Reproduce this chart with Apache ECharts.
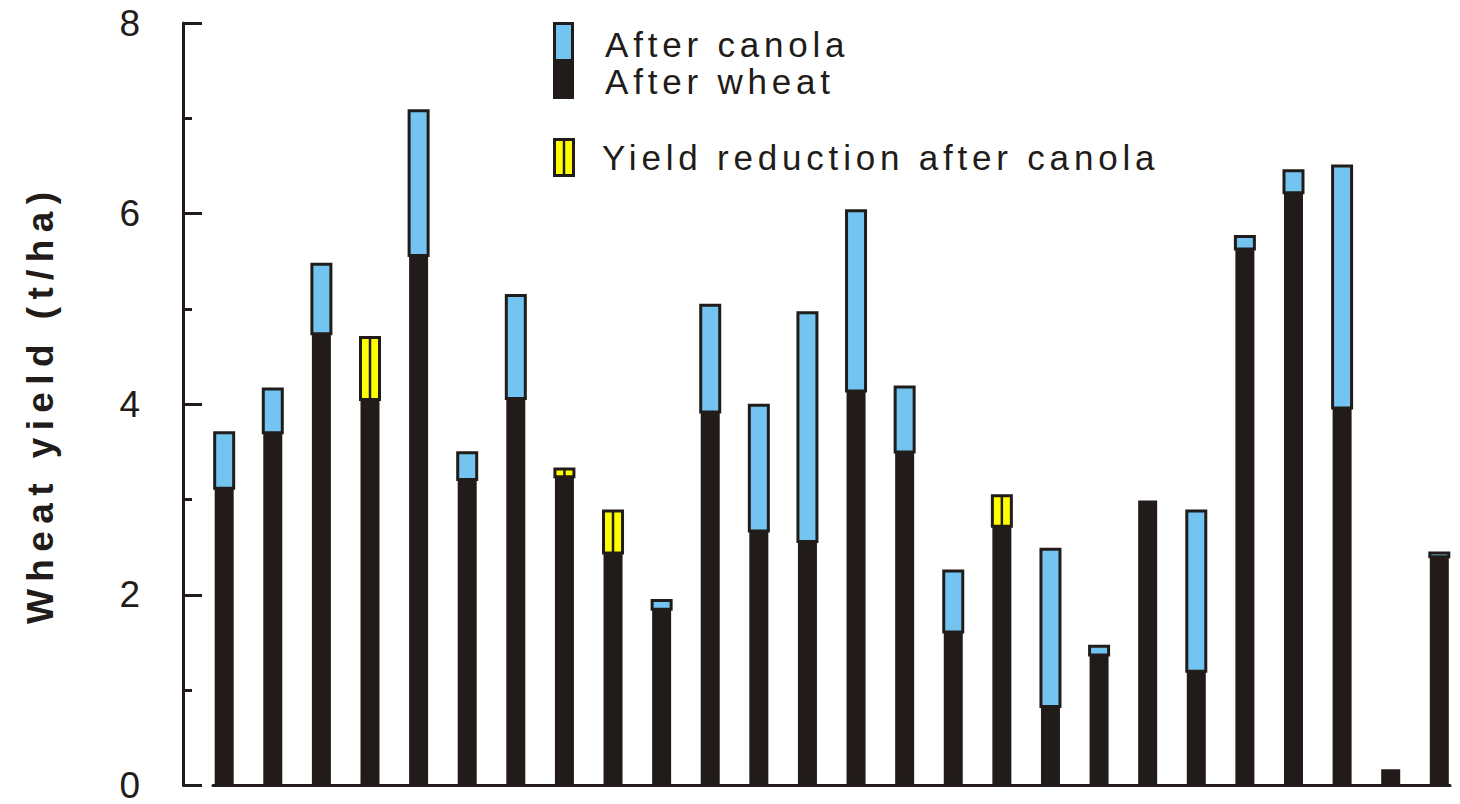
<!DOCTYPE html>
<html>
<head>
<meta charset="utf-8">
<script src="https://cdn.jsdelivr.net/npm/echarts@6/dist/echarts.min.js"></script>
<style>
  html, body { margin: 0; padding: 0; background: #ffffff; }
  #chart { width: 1460px; height: 804px; }
  /* wide tracking for the legend and axis title */
  #chart text[style*="35px"] { letter-spacing: 4.8px; }
  #chart text[style*="bold"] { letter-spacing: 7.4px; }
</style>
</head>
<body>
<div id="chart"></div>
<script>
// Site order along the x axis
const sites = [1, 2, 3, 4, 5, 6, 7, 8, 9, 10, 11, 12, 13, 14, 15, 16, 17, 18, 19, 20, 21, 22, 23, 24, 25, 26];

// Wheat yield (t/ha) following a wheat crop
const afterWheat = [3.12, 3.70, 4.74, 4.70, 5.56, 3.21, 4.06, 3.32, 2.88, 1.85, 3.92, 2.67, 2.56, 4.14, 3.50, 1.61, 3.04, 0.83, 1.37, 2.99, 1.20, 5.63, 6.22, 3.96, 0.17, 2.40];

// Wheat yield (t/ha) following a canola crop
const afterCanola = [3.70, 4.16, 5.47, 4.05, 7.08, 3.49, 5.14, 3.24, 2.44, 1.94, 5.04, 3.99, 4.96, 6.03, 4.18, 2.25, 2.72, 2.48, 1.46, 2.99, 2.88, 5.76, 6.45, 6.50, 0.17, 2.44];

// Y axis tick values
const yTicks = [0, 2, 4, 6, 8];

const INK = '#211c19';
const SKY = '#74c4f2';
const GOLD = '#ffff00';
const FONT = '"Liberation Sans", Arial, Helvetica, sans-serif';

// lower of the two yields: the solid dark part of every column
const baseData = sites.map((s, i) => [s, Math.min(afterWheat[i], afterCanola[i])]);
// gain after canola: from the wheat-after-wheat yield up to the canola yield
const gainData = [];
// loss after canola: from the canola yield up to the wheat-after-wheat yield
const lossData = [];
sites.forEach((s, i) => {
  if (afterCanola[i] > afterWheat[i]) gainData.push([s, afterWheat[i], afterCanola[i]]);
  if (afterWheat[i] > afterCanola[i]) lossData.push([s, afterCanola[i], afterWheat[i]]);
});

const BAR_W = 19;

// segment drawn between two yields, outlined in black
function segment(fill, divided) {
  return function (params, api) {
    const x = api.value(0);
    const top = api.coord([x, api.value(2)]);
    const bot = api.coord([x, api.value(1)]);
    const children = [{
      type: 'rect',
      shape: { x: top[0] - BAR_W / 2, y: top[1], width: BAR_W, height: bot[1] - top[1] },
      style: { fill: fill, stroke: INK, lineWidth: 3 }
    }];
    if (divided) {
      children.push({
        type: 'line',
        shape: { x1: top[0], y1: top[1], x2: top[0], y2: bot[1] },
        style: { stroke: INK, lineWidth: 2.5 }
      });
    }
    return { type: 'group', children: children };
  };
}

const chart = echarts.init(document.getElementById('chart'), null, { renderer: 'svg' });

chart.setOption({
  animation: false,
  backgroundColor: '#ffffff',
  grid: { left: 213, right: 10, top: 23, bottom: 16, containLabel: false },
  xAxis: {
    type: 'value',
    min: 0.77,
    max: 26.22,
    axisLine: { show: true, onZero: false, lineStyle: { color: INK, width: 3 } },
    axisTick: { show: false },
    axisLabel: { show: false },
    splitLine: { show: false }
  },
  yAxis: {
    type: 'value',
    min: yTicks[0],
    max: yTicks[yTicks.length - 1],
    interval: yTicks[1] - yTicks[0],
    offset: 30,
    axisLine: { show: true, onZero: false, lineStyle: { color: INK, width: 3 } },
    axisTick: { show: true, inside: true, length: 19, lineStyle: { color: INK, width: 3 } },
    minorTick: { show: true, splitNumber: 2, length: 9, lineStyle: { color: INK, width: 3 } },
    splitLine: { show: false },
    axisLabel: { margin: 43, fontSize: 37, lineHeight: 30, color: INK, fontFamily: FONT },
    name: 'Wheat yield (t/ha)',
    nameLocation: 'middle',
    nameRotate: 90,
    nameGap: 124,
    nameTextStyle: { fontSize: 37, fontWeight: 'bold', color: INK, fontFamily: FONT }
  },
  series: [
    {
      name: 'After wheat',
      type: 'bar',
      barWidth: BAR_W,
      data: baseData,
      itemStyle: { color: INK, borderColor: INK, borderWidth: 3 }
    },
    {
      name: 'After canola',
      type: 'custom',
      data: gainData,
      encode: { x: 0, y: [1, 2] },
      renderItem: segment(SKY, false)
    },
    {
      name: 'Yield reduction after canola',
      type: 'custom',
      data: lossData,
      encode: { x: 0, y: [1, 2] },
      renderItem: segment(GOLD, true)
    }
  ],
  graphic: [
    { type: 'rect', shape: { x: 553, y: 22, width: 21, height: 77 }, style: { fill: INK } },
    { type: 'rect', shape: { x: 556, y: 25, width: 15, height: 34 }, style: { fill: SKY } },
    { type: 'text', x: 605, y: 44, style: { text: 'After canola', fontSize: 35, fontFamily: FONT, fill: INK, verticalAlign: 'middle', align: 'left' } },
    { type: 'text', x: 605, y: 81, style: { text: 'After wheat', fontSize: 35, fontFamily: FONT, fill: INK, verticalAlign: 'middle', align: 'left' } },
    { type: 'rect', shape: { x: 554.5, y: 139.5, width: 19, height: 36 }, style: { fill: GOLD, stroke: INK, lineWidth: 3 } },
    { type: 'line', shape: { x1: 564, y1: 139.5, x2: 564, y2: 175.5 }, style: { stroke: INK, lineWidth: 2.5 } },
    { type: 'text', x: 602, y: 157, style: { text: 'Yield reduction after canola', fontSize: 35, fontFamily: FONT, fill: INK, verticalAlign: 'middle', align: 'left' } }
  ]
});
</script>
</body>
</html>
